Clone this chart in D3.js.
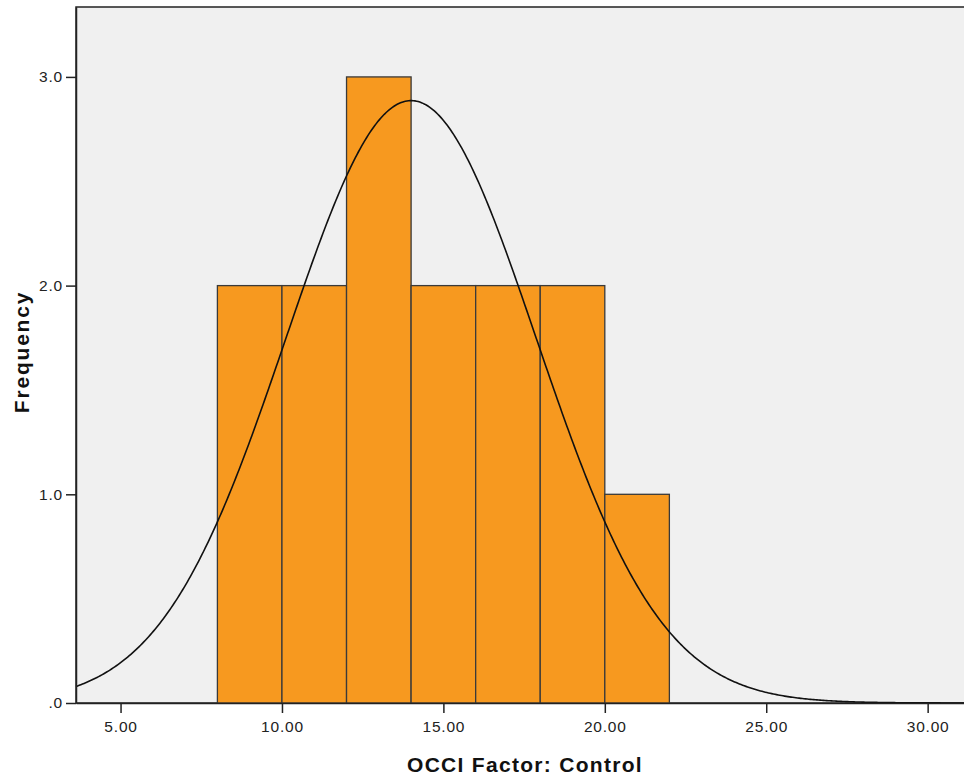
<!DOCTYPE html>
<html lang="en">
<head>
  <meta charset="UTF-8">
  <title>Histogram: OCCI Factor: Control</title>
  <script src="https://d3js.org/d3.v7.min.js"></script>
  <style>
    body {
      margin: 0;
      background: #fff;
      font-family: "Liberation Sans", Arial, sans-serif;
    }
    svg { display: block; }
  </style>
</head>
<body>
  <div id="chart"></div>

  <script>
    // bins (lower edge, upper edge) and counts
    const binStart = [8, 10, 12, 14, 16, 18, 20];
    const binEnd = [10, 12, 14, 16, 18, 20, 22];
    const counts = [2, 2, 3, 2, 2, 2, 1];

    const xTicks = [5, 10, 15, 20, 25, 30];
    const yTicks = [0, 1, 2, 3];

    // normal curve fitted by SPSS
    const mean = 14.0;
    const sd = 3.87;
    const n = 14;
    const binWidth = 2;

    const width = 964, height = 778;
    const margin = { top: 7, right: -4, bottom: 75, left: 76 };

    const svg = d3.select("#chart")
      .append("svg")
      .attr("width", width)
      .attr("height", height);

    const x = d3.scaleLinear()
      .domain([3.62, 31.25])
      .range([margin.left, width - margin.right]);

    const y = d3.scaleLinear()
      .domain([0, 3.335])
      .range([height - margin.bottom, margin.top]);

    // plot background
    svg.append("rect")
      .attr("x", margin.left)
      .attr("y", margin.top)
      .attr("width", width - margin.right - margin.left)
      .attr("height", height - margin.bottom - margin.top)
      .attr("fill", "#f0f0f0")
      .attr("stroke", "#222")
      .attr("stroke-width", 1.5);

    const bars = binStart.map((s, i) => ({ s, e: binEnd[i], c: counts[i] }));

    svg.selectAll("rect.bar")
      .data(bars)
      .enter()
      .append("rect")
      .attr("class", "bar")
      .attr("x", d => x(d.s))
      .attr("y", d => y(d.c))
      .attr("width", d => x(d.e) - x(d.s))
      .attr("height", d => y(0) - y(d.c))
      .attr("fill", "#f7991f")
      .attr("stroke", "#3a3a3a")
      .attr("stroke-width", 1.3);

    // normal curve
    const peak = n * binWidth / (sd * Math.sqrt(2 * Math.PI));
    const curveX = d3.range(x.domain()[0], x.domain()[1], 0.05);
    const line = d3.line()
      .x(d => x(d))
      .y(d => y(peak * Math.exp(-0.5 * ((d - mean) / sd) ** 2)));

    svg.append("path")
      .datum(curveX)
      .attr("d", line)
      .attr("fill", "none")
      .attr("stroke", "#111")
      .attr("stroke-width", 1.6);

    // axes
    const xAxis = svg.append("g")
      .attr("transform", `translate(0,${height - margin.bottom})`)
      .call(d3.axisBottom(x).tickValues(xTicks).tickFormat(d3.format(".2f"))
        .tickSize(10).tickSizeOuter(0));

    const yAxis = svg.append("g")
      .attr("transform", `translate(${margin.left},0)`)
      .call(d3.axisLeft(y).tickValues(yTicks)
        .tickFormat(d => d === 0 ? ".0" : d3.format(".1f")(d))
        .tickSize(10).tickSizeOuter(0));

    [xAxis, yAxis].forEach(g => {
      g.attr("font-size", null).attr("font-family", null);
      g.select(".domain").attr("stroke", "#222").attr("stroke-width", 1.5);
      g.selectAll(".tick line").attr("stroke", "#222").attr("stroke-width", 1.5);
      g.selectAll(".tick text")
        .style("font-family", "'Liberation Sans', Arial, sans-serif")
        .style("font-size", "15.5px")
        .style("letter-spacing", "0.8px")
        .attr("fill", "#222");
    });
    xAxis.selectAll(".tick text").attr("y", 29).attr("dy", 0);
    yAxis.selectAll(".tick text").attr("x", -13);

    svg.append("text")
      .attr("x", 525)
      .attr("y", 772)
      .attr("text-anchor", "middle")
      .style("font-size", "21px")
      .style("font-weight", "bold")
      .style("letter-spacing", "1.3px")
      .attr("fill", "#111")
      .text("OCCI Factor: Control");

    svg.append("text")
      .attr("transform", "translate(29,352) rotate(-90)")
      .attr("text-anchor", "middle")
      .style("font-size", "21px")
      .style("font-weight", "bold")
      .style("letter-spacing", "1.8px")
      .attr("fill", "#111")
      .text("Frequency");
  </script>
</body>
</html>
